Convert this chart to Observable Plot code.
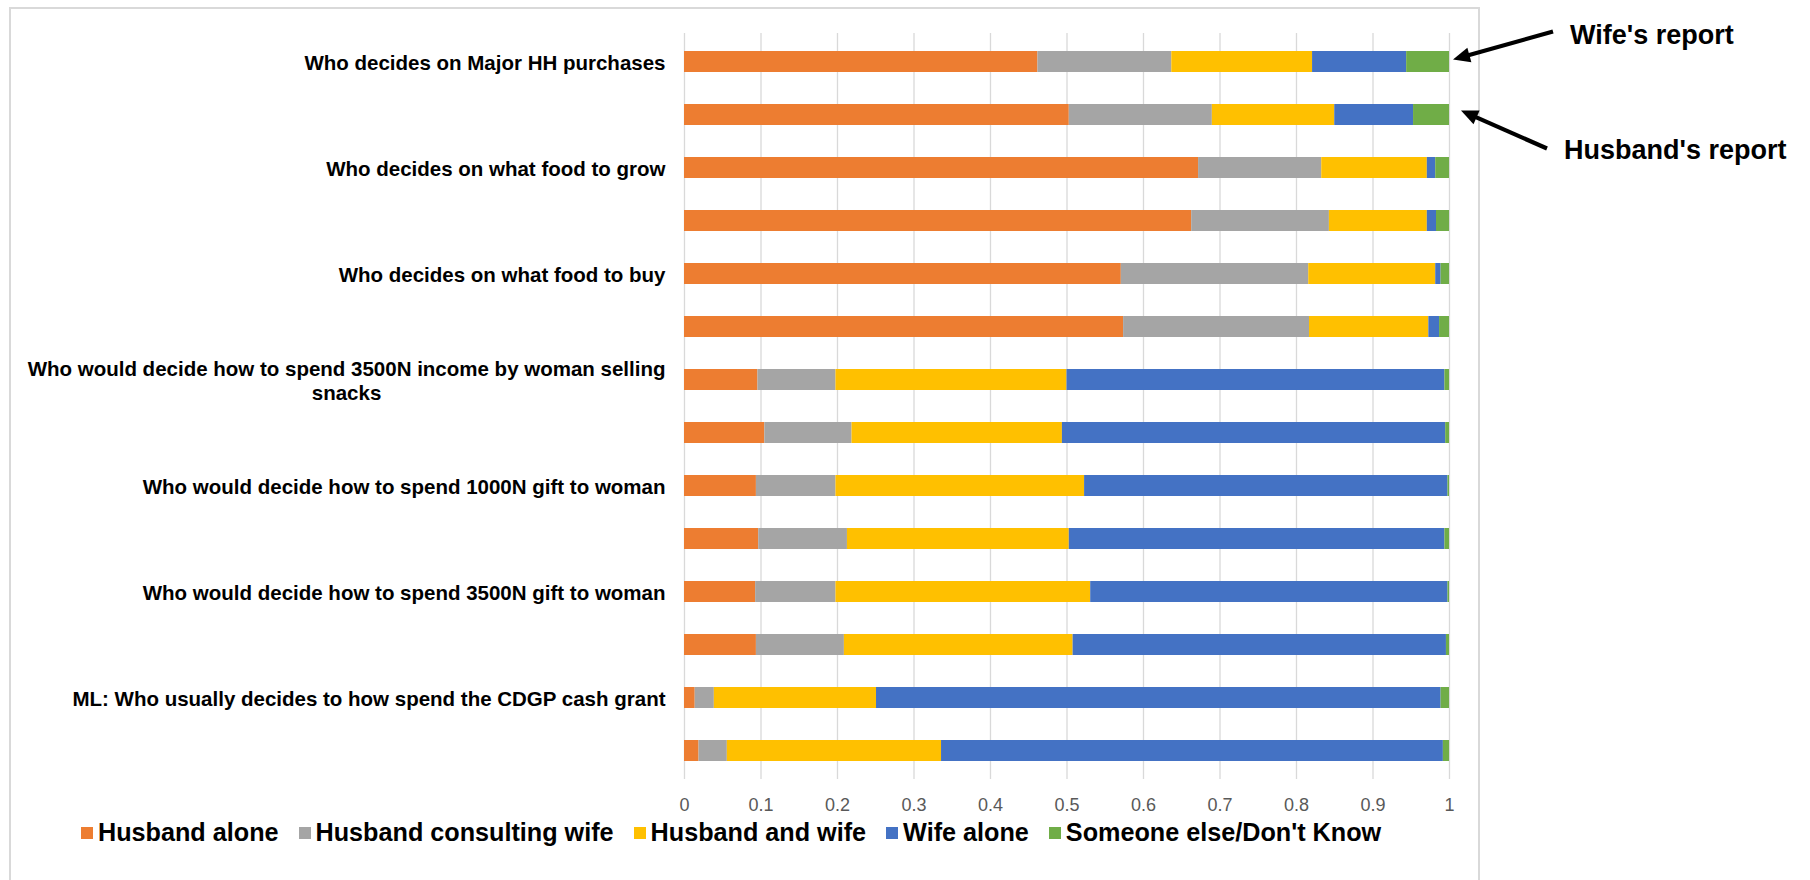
<!DOCTYPE html>
<html>
<head>
<meta charset="utf-8">
<script src="https://cdn.jsdelivr.net/npm/d3@7"></script>
<script src="https://cdn.jsdelivr.net/npm/@observablehq/plot@0.6"></script>
<style>
  html, body { margin: 0; padding: 0; background: #fff; overflow: hidden; }
  #wrap { position: relative; width: 1810px; height: 880px; font-family: "Liberation Sans", Arial, sans-serif; }
  #frame { position: absolute; left: 9px; top: 7px; width: 1471px; height: 920px; border: 2px solid #d9d9d9; box-sizing: border-box; }
  #chart { position: absolute; left: 0; top: 0; }
  #legend { position: absolute; left: 81px; top: 816px; }
  .lg-swatches, .lg-swatches-wrap { font: bold 25.2px "Liberation Sans", Arial, sans-serif !important; color: #000 !important; margin: 0 !important; }
  .lg-swatch { margin-right: 20px !important; }
  .lg-swatch > svg { margin-right: 5px !important; }
</style>
</head>
<body>
<div id="wrap">
  <div id="frame"></div>
  <div id="chart"></div>
  <div id="legend"></div>
</div>
<script>
// Survey questions, top to bottom; each is shown as a wife's-report bar followed by a husband's-report bar
const questions = [
  "Who decides on Major HH purchases",
  "Who decides on what food to grow",
  "Who decides on what food to buy",
  "Who would decide how to spend 3500N income by woman selling\nsnacks",
  "Who would decide how to spend 1000N gift to woman",
  "Who would decide how to spend 3500N gift to woman",
  "ML: Who usually decides to how spend the CDGP cash grant"
];
const reports = ["Wife's report", "Husband's report"];

const responses = ["Husband alone", "Husband consulting wife", "Husband and wife", "Wife alone", "Someone else/Don't Know"];
const colors = ["#ED7D31", "#A5A5A5", "#FFC000", "#4472C4", "#70AD47"];

const xTicks = [0, 0.1, 0.2, 0.3, 0.4, 0.5, 0.6, 0.7, 0.8, 0.9, 1];

// Share of answers per response, one value per bar (question × report, wife first)
const husbandAlone        = [0.462, 0.503, 0.672, 0.663, 0.571, 0.574, 0.096, 0.105, 0.094, 0.097, 0.093, 0.094, 0.014, 0.019];
const husbandConsulting   = [0.175, 0.187, 0.161, 0.180, 0.245, 0.243, 0.102, 0.114, 0.104, 0.116, 0.105, 0.115, 0.025, 0.037];
const husbandAndWife      = [0.184, 0.160, 0.138, 0.128, 0.166, 0.156, 0.302, 0.275, 0.325, 0.290, 0.333, 0.299, 0.212, 0.280];
const wifeAlone           = [0.123, 0.103, 0.011, 0.012, 0.007, 0.014, 0.494, 0.501, 0.475, 0.491, 0.467, 0.488, 0.738, 0.656];
const someoneElse         = [0.056, 0.047, 0.018, 0.017, 0.011, 0.013, 0.006, 0.005, 0.002, 0.006, 0.002, 0.004, 0.011, 0.008];
const seriesValues = [husbandAlone, husbandConsulting, husbandAndWife, wifeAlone, someoneElse];

// One key per bar
const keys = questions.flatMap((q, qi) => reports.map((r, ri) => `${qi}|${ri}`));
const keyLabel = k => {
  const [qi, ri] = k.split("|").map(Number);
  return ri === 0 ? questions[qi] : "";
};

const rows = [];
keys.forEach((k, i) => {
  responses.forEach((resp, s) => rows.push({key: k, response: resp, share: seriesValues[s][i]}));
});

const FONT = "Liberation Sans, Arial, sans-serif";

const chart = Plot.plot({
  width: 1810,
  height: 830,
  marginTop: 33,
  marginBottom: 51,
  marginLeft: 684,
  marginRight: 361,
  style: {fontFamily: FONT, background: "transparent", overflow: "visible"},
  x: {domain: [0, 1]},
  y: {domain: keys, paddingInner: 0.6, paddingOuter: 0.3, align: 0.5},
  color: {domain: responses, range: colors},
  marks: [
    Plot.gridX({ticks: xTicks, stroke: "#d9d9d9", strokeOpacity: 1, strokeWidth: 1.3}),
    Plot.barX(rows, Plot.stackX({x: "share", y: "key", fill: "response", order: responses})),
    Plot.axisX({ticks: xTicks, tickSize: 0, tickPadding: 19, fontSize: 18, color: "#595959",
      tickFormat: d => String(d), label: null}),
    Plot.axisY({tickSize: 0, tickPadding: 19, fontSize: 20.5, fontWeight: "bold", color: "#000",
      tickFormat: keyLabel, lineHeight: 1.2, label: null})
  ]
});
document.getElementById("chart").append(chart);

// Centre the second line of the wrapped question label under its first line
d3.select(chart).selectAll('g[aria-label="y-axis tick label"] text').each(function () {
  const spans = this.querySelectorAll("tspan");
  if (spans.length > 1) {
    const w1 = spans[0].getComputedTextLength();
    for (let i = 1; i < spans.length; i++) {
      spans[i].setAttribute("x", -w1 / 2);
      spans[i].setAttribute("text-anchor", "middle");
      spans[i].style.textAnchor = "middle";
    }
  }
  this.style.fontWeight = "bold";
});

// Report annotations with arrows pointing at the first pair of bars
const xs = chart.scale("x"), ys = chart.scale("y");
const band = ys.bandwidth;
const xEnd = xs.apply(1);
const cWife = ys.apply(keys[0]) + band / 2;
const cHusband = ys.apply(keys[1]) + band / 2;

const svg = d3.select(chart);
const ann = svg.append("g").attr("fill", "#000").attr("stroke", "none").attr("text-anchor", "start");

function arrow(x1, y1, x2, y2) {
  const a = Math.atan2(y2 - y1, x2 - x1);
  const ux = Math.cos(a), uy = Math.sin(a);
  const L = 17, W = 7.5;
  ann.append("line")
    .attr("x1", x1).attr("y1", y1)
    .attr("x2", x2 - ux * (L - 2)).attr("y2", y2 - uy * (L - 2))
    .attr("stroke", "#000").attr("stroke-width", 4.2);
  const bx = x2 - ux * L, by = y2 - uy * L;
  ann.append("polygon").attr("points", [
    [x2, y2],
    [bx - uy * W, by + ux * W],
    [bx + uy * W, by - ux * W]
  ].map(p => p.join(",")).join(" "));
}

arrow(xEnd + 104, cWife - 30, xEnd + 4, cWife - 2);
arrow(xEnd + 98, cHusband + 34, xEnd + 12, cHusband - 4);

ann.append("text").attr("x", xEnd + 121).attr("y", cWife - 18)
  .attr("font-family", FONT).attr("font-weight", "bold").attr("font-size", 27)
  .attr("text-anchor", "start")
  .text(reports[0]);
ann.append("text").attr("x", xEnd + 115).attr("y", cHusband + 44)
  .attr("font-family", FONT).attr("font-weight", "bold").attr("font-size", 27)
  .attr("text-anchor", "start")
  .text(reports[1]);

// Legend below the axis
const legend = Plot.legend({
  color: {domain: responses, range: colors},
  legend: "swatches",
  swatchSize: 12,
  className: "lg"
});
document.getElementById("legend").append(legend);
</script>
</body>
</html>
